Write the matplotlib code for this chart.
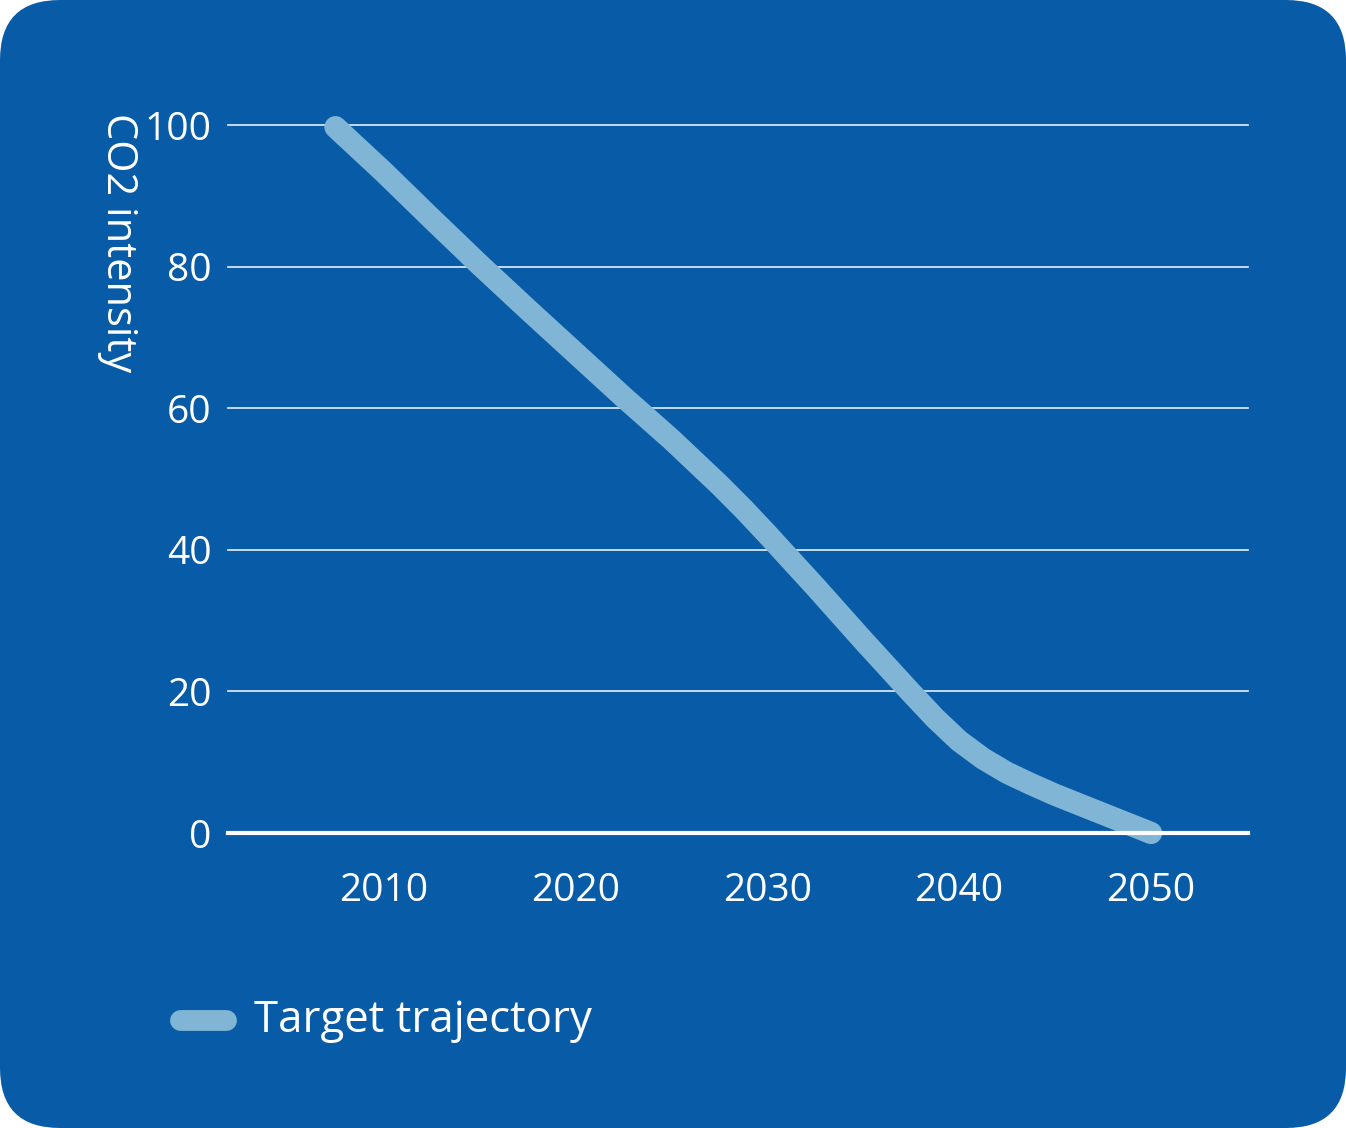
import matplotlib.pyplot as plt
from matplotlib.patches import FancyBboxPatch
from matplotlib.lines import Line2D

# Valores
anos = [2007.5, 2010, 2012.5, 2015, 2017.5, 2020, 2022.5, 2025, 2027.5,
        2028.75, 2030, 2031.25, 2032.5, 2035, 2037.5, 2038.75, 2040,
        2041.25, 2042.5, 2043.75, 2045, 2047.5, 2050]
intensidade = [99.7, 93.4, 86.8, 80.3, 74.0, 67.8, 61.6, 55.6, 49.2,
               45.8, 42.2, 38.5, 34.8, 27.2, 19.8, 16.2, 13.0,
               10.5, 8.5, 6.9, 5.4, 2.7, 0]
anos_ticks = [2010, 2020, 2030, 2040, 2050]
y_ticks = [0, 20, 40, 60, 80, 100]
rotulo_y = 'CO2 intensity'
rotulo_serie = 'Target trajectory'

azul_fundo = '#085BA6'
azul_linha = '#80B5D5'

plt.rcParams['font.family'] = ['Open Sans', 'DejaVu Sans']

fig = plt.figure(figsize=(13.46, 11.28), dpi=100)
fig.patch.set_facecolor('white')

# Fundo arredondado
W, H = 1346, 1128
r = 60
fundo = FancyBboxPatch((r / W, r / H), 1 - 2 * r / W, 1 - 2 * r / H,
                       boxstyle=f'round,pad={r / W},rounding_size={r / W}',
                       transform=fig.transFigure, facecolor=azul_fundo,
                       edgecolor='none', mutation_aspect=W / H, zorder=-10)
fig.patches.append(fundo)

ax = fig.add_axes([228 / W, 1 - 833 / H, 1020 / W, 708 / H])
ax.set_zorder(5)
ax.set_facecolor('none')
ax.set_xlim(2001.9, 2055.05)
ax.set_ylim(0, 100)

for v in y_ticks[1:]:
    ax.axhline(v, color='white', lw=1.2, alpha=0.9, zorder=1, clip_on=False)

ax.plot(anos, intensidade, color=azul_linha, lw=16, solid_capstyle='round',
        solid_joinstyle='round', clip_on=False, zorder=2)
ax.axhline(0, color='white', lw=3, zorder=3, clip_on=False)

for s in ax.spines.values():
    s.set_visible(False)

ax.set_xticks(anos_ticks)
ax.set_yticks(y_ticks)
ax.tick_params(length=0, colors='white', labelsize=28)
ax.tick_params(axis='x', pad=28)
ax.tick_params(axis='y', pad=12)

fig.text(118 / W, 1 - 113 / H, rotulo_y, rotation=-90, color='white',
         fontsize=30, ha='center', va='top')

# Legenda
fig.add_artist(Line2D([180 / W, 226 / W], [1 - 1020 / H, 1 - 1020 / H],
                      color=azul_linha, lw=15, solid_capstyle='round',
                      transform=fig.transFigure))
fig.text(254 / W, 1 - 1021 / H, rotulo_serie, color='white', fontsize=31.5,
         ha='left', va='center')

plt.savefig('out.png', dpi=100, facecolor='white')
